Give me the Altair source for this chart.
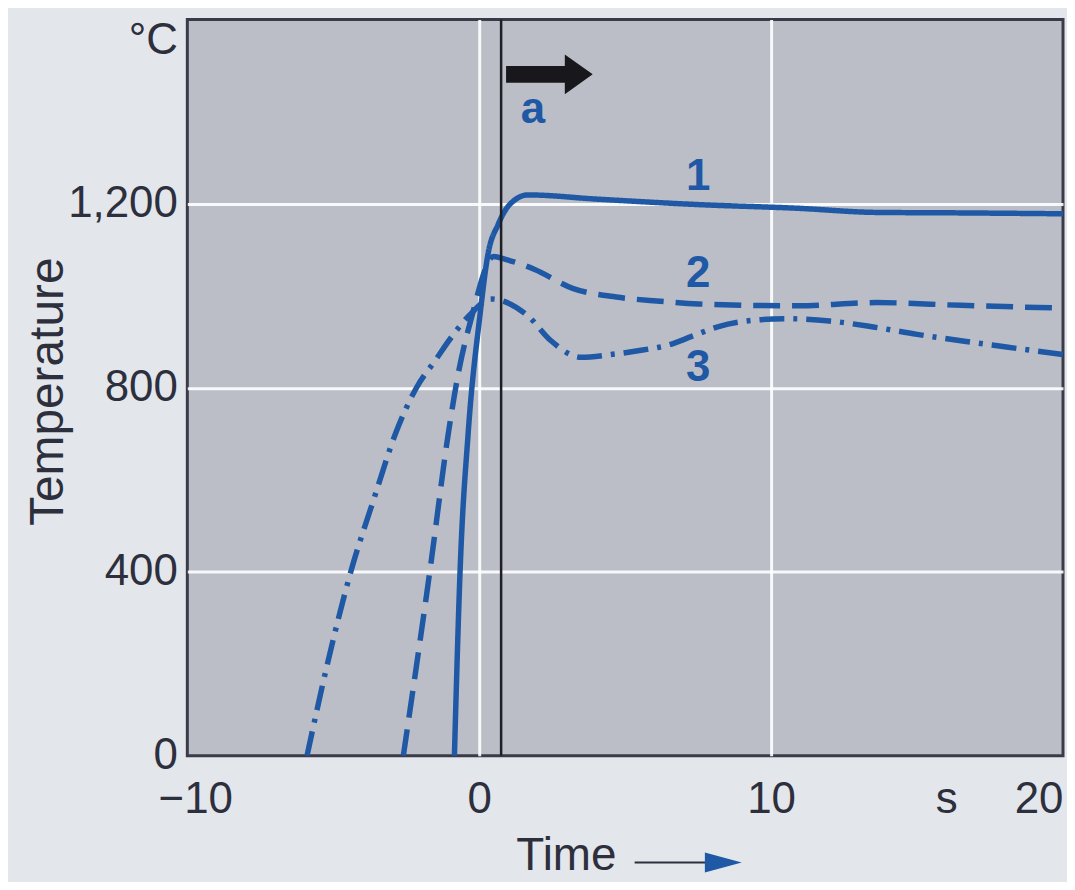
import altair as alt
import pandas as pd

# ---- data ----
t_curve1 = [-0.85, -0.65, -0.38, 0.03, 0.3, 0.65, 1.0, 1.67, 4.0, 7.5, 10.9, 13.6, 16.3, 20.0]
T_curve1 = [0, 411, 700, 960, 1090, 1155, 1195, 1219, 1210, 1198, 1190, 1181, 1180, 1178]

t_curve2 = [-2.6, -1.67, -1.06, -0.72, -0.27, 0.5, 0.9, 1.9, 3.2, 4.7, 6.2, 7.5, 10.9, 13.6, 16.5, 20.0]
T_curve2 = [0, 411, 700, 830, 951, 1085, 1079, 1057, 1016, 997, 988, 982, 978, 985, 979, 973]

t_curve3 = [-5.9, -5.2, -4.4, -3.6, -2.87, -2.15, -1.5, -0.95, -0.3, 0.4, 1.67, 2.46, 3.5, 4.5, 5.6,
            6.5, 7.3, 8.2, 9.3, 10.5, 12.0, 13.5, 15.0, 16.5, 18.0, 20.0]
T_curve3 = [0, 200, 400, 560, 700, 800, 860, 910, 960, 993, 956, 902, 866, 872, 882,
            893, 912, 933, 946, 950, 945, 932, 916, 902, 889, 872]

curve_names = ["1", "2", "3"]
label_t = [7.5, 7.5, 7.5]
label_T = [1257, 1046, 843]

x_ticks = [-10, 0, 10, 16, 20]
y_ticks = [0, 400, 800, 1200, 1555]

marker_t = 0.75         # vertical line "a"
arrow_t = [0.92, 3.1]   # arrow shaft
arrow_head_t = 3.41
arrow_T = 1481
a_label = {"t": 1.84, "T": 1403, "text": "a"}

# ---- tables ----
rows = []
for name, ts, Ts in zip(curve_names, [t_curve1, t_curve2, t_curve3], [T_curve1, T_curve2, T_curve3]):
    for i, (t, T) in enumerate(zip(ts, Ts)):
        rows.append({"curve": name, "t": t, "T": T, "order": i})
df = pd.DataFrame(rows)
labels_df = pd.DataFrame({"curve": curve_names, "t": label_t, "T": label_T})

BLUE = "#1f58a5"
DARK = "#2d2f3c"
FONT = "Liberation Sans"

x_scale = alt.Scale(domain=[-10, 20], nice=False, zero=False)
y_scale = alt.Scale(domain=[0, 1600], nice=False)

x_axis = alt.Axis(
    values=x_ticks,
    labelExpr="datum.value == 16 ? 's' : datum.label",
    title="Time",
    titleX=380, titleY=114, titleAlign="center", titleBaseline="alphabetic",
    titleFontSize=46, titleFont=FONT, titleFontWeight="normal", titleColor=DARK,
    labelFontSize=44, labelFont=FONT, labelColor=DARK, labelPadding=22,
    labelAlign={"condition": {"test": "datum.value == 20", "value": "right"}, "value": "center"},
    labelOffset={"condition": {"test": "datum.value == -10", "value": 8}, "value": 0},
    grid=True, gridColor="white", gridWidth=3,
    gridOpacity={"condition": {"test": "datum.value == 16 || datum.value == -10 || datum.value == 20", "value": 0}, "value": 0.9},
    domain=False, ticks=False,
)
y_axis = alt.Axis(
    values=y_ticks,
    format=",d",
    labelExpr="datum.value > 1500 ? '°C' : datum.label",
    title="Temperature",
    titleX=-125, titleY=373, titleAngle=270, titleAlign="center", titleBaseline="alphabetic",
    titleFontSize=48, titleFont=FONT, titleFontWeight="normal", titleColor=DARK,
    labelFontSize=44, labelFont=FONT, labelColor=DARK, labelPadding=10,
    grid=True, gridColor="white", gridWidth=3,
    gridOpacity={"condition": {"test": "datum.value > 1500 || datum.value == 0", "value": 0}, "value": 0.9},
    domain=False, ticks=False,
)

lines = alt.Chart(df).mark_line(strokeWidth=5.5, color=BLUE, interpolate="monotone", clip=True).encode(
    x=alt.X("t:Q", scale=x_scale, axis=x_axis),
    y=alt.Y("T:Q", scale=y_scale, axis=y_axis),
    detail="curve:N",
    order="order:Q",
    strokeDash=alt.StrokeDash("curve:N", scale=alt.Scale(domain=curve_names,
                              range=[[1, 0], [27, 12], [25, 9, 4, 9]]), legend=None),
)

curve_labels = alt.Chart(labels_df).mark_text(fontSize=44, fontWeight="bold", font=FONT, color=BLUE,
                                              baseline="middle").encode(
    x=alt.X("t:Q", scale=x_scale), y=alt.Y("T:Q", scale=y_scale), text="curve:N")

vline = alt.Chart(pd.DataFrame({"t": [marker_t]})).mark_rule(color="#1e1e24", strokeWidth=2.5).encode(
    x=alt.X("t:Q", scale=x_scale))

shaft = alt.Chart(pd.DataFrame({"t": [arrow_t[0]], "t2": [arrow_t[1]], "T": [arrow_T]})).mark_rule(
    color="#18181c", strokeWidth=17, strokeCap="butt").encode(
    x=alt.X("t:Q", scale=x_scale), x2="t2:Q", y=alt.Y("T:Q", scale=y_scale))

head = alt.Chart(pd.DataFrame({"t": [arrow_head_t], "T": [arrow_T]})).mark_point(
    shape="M-0.7,-1L0.7,0L-0.7,1Z", size=1600, filled=True, color="#18181c", opacity=1).encode(
    x=alt.X("t:Q", scale=x_scale), y=alt.Y("T:Q", scale=y_scale))

a_text = alt.Chart(pd.DataFrame([a_label])).mark_text(fontSize=44, fontWeight="bold", font=FONT,
                                                     color=BLUE, baseline="middle").encode(
    x=alt.X("t:Q", scale=x_scale), y=alt.Y("T:Q", scale=y_scale), text="text:N")

# arrow next to the "Time" axis title (decoration in pixel space)
time_line = alt.Chart(pd.DataFrame({"k": [0]})).mark_rule(color=DARK, strokeWidth=2).encode(
    x=alt.value(449), x2=alt.value(522), y=alt.value(846))
time_head = alt.Chart(pd.DataFrame({"k": [0]})).mark_point(
    shape="M-1,-0.54L1,0L-1,0.54Z", size=1369, filled=True, color=BLUE, opacity=1).encode(
    x=alt.value(538), y=alt.value(846))

chart = alt.layer(lines, vline, shaft, head, a_text, curve_labels, time_line, time_head).properties(
    width=879, height=739,
    padding={"left": 180, "top": 10, "right": 4, "bottom": 125},
    autosize=alt.AutoSizeParams(type="none"),
    background="#e3e6eb",
).configure_view(fill="#bbbec7", stroke="#3a3b48", strokeWidth=3)

chart.save("out.html", embed_options={"renderer": "svg", "actions": False})
